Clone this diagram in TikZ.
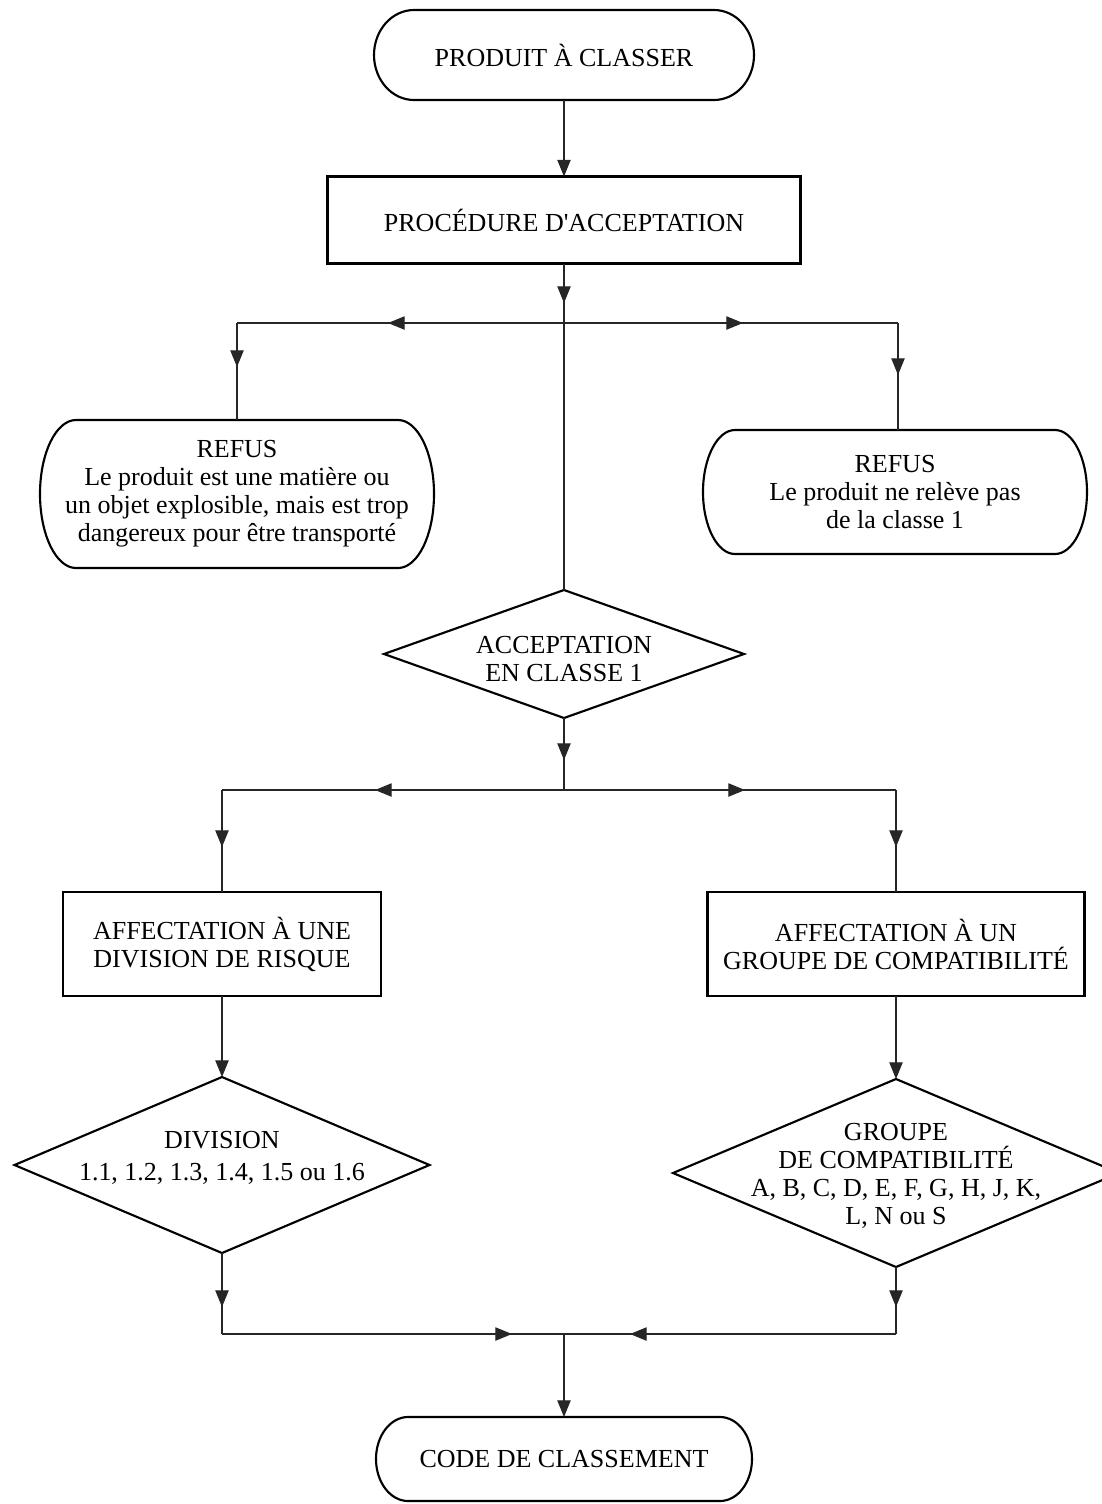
\documentclass[tikz,border=0pt]{standalone}
\usepackage{fontspec}
\setmainfont{Liberation Serif}
\usetikzlibrary{arrows.meta,calc,shapes.geometric}
% #1 name, #2 x px, #3 y px, #4 width pt, #5 height pt, #6 end depth pt, #7 text
\newcommand\termbox[7]{%
  \node[txt, minimum width=#4pt, minimum height=#5pt] (#1) at (#2,#3) {#7};
  \draw[shp] ($(#1.north east)+(-#6pt,0pt)$)
     arc[start angle=90, end angle=-90, x radius=#6pt, y radius=#5pt/2]
     -- ($(#1.south west)+(#6pt,0pt)$)
     arc[start angle=-90, end angle=-270, x radius=#6pt, y radius=#5pt/2] -- cycle;
}
\begin{document}
\begin{tikzpicture}[x=0.75pt,y=-0.75pt,
  txt/.style={font=\fontsize{19.5}{21}\selectfont, align=center, inner sep=0pt, outer sep=0pt},
  shp/.style={draw, line width=1.6pt},
  box/.style={txt, shp, rectangle},
  dia/.style={diamond, shp, inner sep=0pt, outer sep=0pt},
  conn/.style={line width=0.9pt, draw=black!85},
  arr/.style={conn, -{Triangle[length=12.5pt,width=10pt]}}]
\useasboundingbox (0,0) rectangle (1102,1504);

% terminals
\termbox{start}{564}{55}{285}{67.5}{30}{PRODUIT À CLASSER}
\termbox{refusL}{237}{494}{295.5}{111}{27}{REFUS\\Le produit est une matière ou\\un objet explosible, mais est trop\\dangereux pour être transporté}
\termbox{refusR}{895}{492}{288}{93}{24}{REFUS\\Le produit ne relève pas\\de la classe 1}
\termbox{end}{564}{1459}{282}{63}{24}{CODE DE CLASSEMENT}

% boxes
\node[box, minimum width=354.75pt, minimum height=65.25pt] (proc) at (564,220) {PROCÉDURE D\textquotesingle ACCEPTATION};
\node[box, minimum width=238.5pt, minimum height=78pt] (assignL) at (222,944) {AFFECTATION À UNE\\DIVISION DE RISQUE};
\node[box, minimum width=282.75pt, minimum height=78pt] (assignR) at (896,944) {AFFECTATION À UN\\GROUPE DE COMPATIBILITÉ};

% diamonds
\node[dia, minimum width=270pt, minimum height=96pt] (accept) at (564,654) {};
\node[txt] (acceptT) at (564,659) {ACCEPTATION\\EN CLASSE 1};
\node[dia, minimum width=311.25pt, minimum height=132pt] (divD) at (222,1165) {};
\node[txt, font=\fontsize{19.5}{24}\selectfont] (divDT) at (222,1158) {DIVISION\\1.1, 1.2, 1.3, 1.4, 1.5 ou 1.6};
\node[dia, minimum width=334.5pt, minimum height=141pt] (grpD) at (896,1173) {};
\node[txt] (grpDT) at (896,1176) {GROUPE\\DE COMPATIBILITÉ\\A, B, C, D, E, F, G, H, J, K,\\L, N ou S};

% junction and arrow-tip coordinates
\coordinate (j1) at (564,323);
\coordinate (j1L) at (237,323);
\coordinate (j1R) at (898,323);
\coordinate (t1) at (564,303);
\coordinate (t1L) at (388,323);
\coordinate (t1R) at (743,323);
\coordinate (t1Lv) at (237,367);
\coordinate (t1Rv) at (898,375);
\coordinate (j2) at (564,790);
\coordinate (j2L) at (222,790);
\coordinate (j2R) at (896,790);
\coordinate (t2) at (564,760);
\coordinate (t2L) at (375,790);
\coordinate (t2R) at (745,790);
\coordinate (t2Lv) at (222,847);
\coordinate (t2Rv) at (896,847);
\coordinate (j3) at (564,1334);
\coordinate (j3L) at (222,1334);
\coordinate (j3R) at (896,1334);
\coordinate (t3Lv) at (222,1307);
\coordinate (t3Rv) at (896,1307);
\coordinate (t3L) at (512,1334);
\coordinate (t3R) at (630,1334);

% connectors
\draw[arr] (start.south) -- (proc.north);
\draw[conn] (proc.south) -- (accept.north);
\draw[arr] (proc.south) -- (t1);
\draw[conn] (j1L) -- (j1R);
\draw[arr] (j1) -- (t1L);
\draw[arr] (j1) -- (t1R);
\draw[conn] (j1L) -- (j1L |- refusL.north);
\draw[arr] (j1L) -- (t1Lv);
\draw[conn] (j1R) -- (j1R |- refusR.north);
\draw[arr] (j1R) -- (t1Rv);

\draw[conn] (accept.south) -- (j2);
\draw[arr] (accept.south) -- (t2);
\draw[conn] (j2L) -- (j2R);
\draw[arr] (j2) -- (t2L);
\draw[arr] (j2) -- (t2R);
\draw[conn] (j2L) -- (assignL.north);
\draw[arr] (j2L) -- (t2Lv);
\draw[conn] (j2R) -- (assignR.north);
\draw[arr] (j2R) -- (t2Rv);

\draw[arr] (assignL.south) -- (divD.north);
\draw[arr] (assignR.south) -- (grpD.north);

\draw[conn] (divD.south) -- (j3L);
\draw[arr] (divD.south) -- (t3Lv);
\draw[conn] (grpD.south) -- (j3R);
\draw[arr] (grpD.south) -- (t3Rv);
\draw[conn] (j3L) -- (j3R);
\draw[arr] (j3L) -- (t3L);
\draw[arr] (j3R) -- (t3R);
\draw[arr] (j3) -- (end.north);
\end{tikzpicture}
\end{document}
